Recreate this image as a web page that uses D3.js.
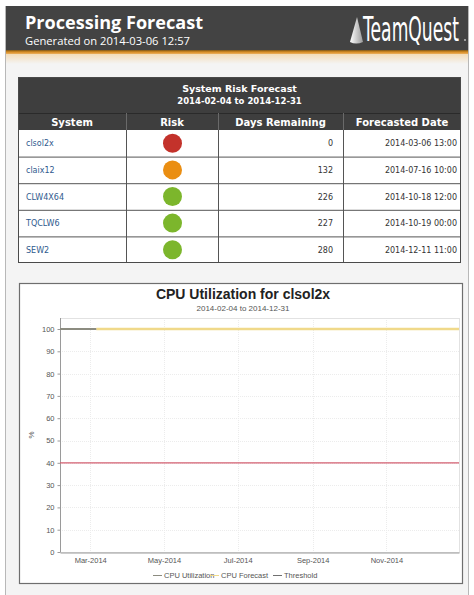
<!DOCTYPE html>
<html>
<head>
<meta charset="utf-8">
<script src="https://cdn.jsdelivr.net/npm/d3@7/dist/d3.min.js"></script>
<style>
  html, body { margin: 0; padding: 0; background: #ffffff; }
  svg { display: block; }
</style>
</head>
<body>
<svg id="page" width="474" height="595"></svg>
<script>
// ---------- DATA ----------
const reportTitle = "Processing Forecast";
const generatedOn = "Generated on 2014-03-06 12:57";
const tableTitle = "System Risk Forecast";
const periodText = "2014-02-04 to 2014-12-31";
const columns = ["System", "Risk", "Days Remaining", "Forecasted Date"];
const systems = ["clsol2x", "claix12", "CLW4X64", "TQCLW6", "SEW2"];
const riskLevels = ["high", "medium", "low", "low", "low"];
const daysRemaining = [0, 132, 226, 227, 280];
const forecastDates = ["2014-03-06 13:00", "2014-07-16 10:00", "2014-10-18 12:00", "2014-10-19 00:00", "2014-12-11 11:00"];

const chartTitle = "CPU Utilization for clsol2x";
const chartPeriod = ["2014-02-04", "2014-12-31"];
const utilDates = ["2014-02-04", "2014-03-06"];
const utilValues = [100, 100];
const forecastLineDates = ["2014-03-06", "2014-12-31"];
const forecastValues = [100, 100];
const thresholdValue = 40;
const yTicks = [0, 10, 20, 30, 40, 50, 60, 70, 80, 90, 100];
const xTickDates = ["2014-03-01", "2014-05-01", "2014-07-01", "2014-09-01", "2014-11-01"];
const legendLabels = ["CPU Utilization", "CPU Forecast", "Threshold"];

// ---------- STYLE ----------
const riskColor = { high: "#c3322b", medium: "#ea8e12", low: "#7cb62c" };
const seriesColor = ["#8c8c80", "#f0d98a", "#d35f70"];

const svg = d3.select("#page");
const defs = svg.append("defs");

// page frame
svg.append("rect").attr("x", 5.5).attr("y", 6.5).attr("width", 463).attr("height", 590)
  .attr("fill", "#f4f4f4").attr("stroke", "#b8b8b8");

// header
svg.append("rect").attr("x", 6).attr("y", 6).attr("width", 462).attr("height", 44).attr("fill", "#434343");
const g1 = defs.append("linearGradient").attr("id", "stripe").attr("x1", 0).attr("y1", 0).attr("x2", 0).attr("y2", 1);
g1.append("stop").attr("offset", "0%").attr("stop-color", "#7a5418");
g1.append("stop").attr("offset", "50%").attr("stop-color", "#d98d22");
g1.append("stop").attr("offset", "100%").attr("stop-color", "#eab060");
svg.append("rect").attr("x", 6).attr("y", 50).attr("width", 462).attr("height", 4).attr("fill", "url(#stripe)");
const g2 = defs.append("linearGradient").attr("id", "fade").attr("x1", 0).attr("y1", 0).attr("x2", 0).attr("y2", 1);
g2.append("stop").attr("offset", "0%").attr("stop-color", "#f3dcb8");
g2.append("stop").attr("offset", "100%").attr("stop-color", "#f4f4f4");
svg.append("rect").attr("x", 6).attr("y", 54).attr("width", 462).attr("height", 10).attr("fill", "url(#fade)");

svg.append("text").attr("x", 25).attr("y", 29)
  .attr("font-family", "'Open Sans', 'DejaVu Sans', sans-serif").attr("font-weight", "bold")
  .attr("font-size", 18).attr("fill", "#ffffff")
  .attr("textLength", 178).attr("lengthAdjust", "spacingAndGlyphs")
  .text(reportTitle);
svg.append("text").attr("x", 25).attr("y", 45)
  .attr("font-family", "'Open Sans', 'DejaVu Sans', sans-serif")
  .attr("font-size", 11).attr("fill", "#ffffff")
  .attr("textLength", 165).attr("lengthAdjust", "spacingAndGlyphs")
  .text(generatedOn);

// logo
const gCone = defs.append("linearGradient").attr("id", "cone").attr("x1", 0).attr("y1", 0).attr("x2", 1).attr("y2", 0);
gCone.append("stop").attr("offset", "0%").attr("stop-color", "#ffffff");
gCone.append("stop").attr("offset", "100%").attr("stop-color", "#9a9a9a");
svg.append("path").attr("d", "M357,17 L350,42 Q356,45 363,42 Z").attr("fill", "url(#cone)");
svg.append("text").attr("transform", "translate(363,41) scale(0.52,1)")
  .attr("font-family", "'DejaVu Sans', sans-serif")
  .attr("font-size", 33).attr("fill", "#ffffff")
  .text("TeamQuest");
svg.append("circle").attr("cx", 465).attr("cy", 40).attr("r", 1).attr("fill", "#bbbbbb");

// ---------- TABLE ----------
const colEdges = [18, 126, 218, 343, 461];
const tTop = 77, titleH = 36, headH = 17;
const rowsTop = tTop + titleH + headH;
const rowY = d3.scaleBand().domain(d3.range(systems.length)).range([rowsTop, 263]);
const tableFont = "'DejaVu Sans', Verdana, sans-serif";

svg.append("rect").attr("x", colEdges[0]).attr("y", tTop).attr("width", colEdges[4] - colEdges[0])
  .attr("height", titleH + headH).attr("fill", "#3e3e3e");
svg.append("rect").attr("x", colEdges[0]).attr("y", rowsTop).attr("width", colEdges[4] - colEdges[0])
  .attr("height", 263 - rowsTop).attr("fill", "#ffffff");

svg.append("text").attr("x", (colEdges[0] + colEdges[4]) / 2).attr("y", 92)
  .attr("text-anchor", "middle").attr("font-family", tableFont).attr("font-weight", "bold")
  .attr("font-size", 9.5).attr("fill", "#ffffff").text(tableTitle);
svg.append("text").attr("x", (colEdges[0] + colEdges[4]) / 2).attr("y", 104)
  .attr("text-anchor", "middle").attr("font-family", tableFont).attr("font-weight", "bold")
  .attr("font-size", 8.5).attr("fill", "#ffffff").text(periodText);

// header row
svg.append("line").attr("x1", colEdges[0]).attr("x2", colEdges[4]).attr("y1", tTop + titleH + 0.5).attr("y2", tTop + titleH + 0.5)
  .attr("stroke", "#2a2a2a");
columns.forEach((c, i) => {
  svg.append("text").attr("x", (colEdges[i] + colEdges[i + 1]) / 2).attr("y", tTop + titleH + 12.5)
    .attr("text-anchor", "middle").attr("font-family", tableFont).attr("font-weight", "bold")
    .attr("font-size", 10).attr("fill", "#ffffff").text(c);
});

// rows
systems.forEach((s, i) => {
  const y0 = rowY(i), h = rowY.bandwidth(), cy = y0 + h / 2;
  svg.append("text").attr("x", colEdges[0] + 8).attr("y", cy + 3)
    .attr("font-family", tableFont).attr("font-size", 8).attr("fill", "#2f5a8e").text(s);
  svg.append("circle").attr("cx", (colEdges[1] + colEdges[2]) / 2 + 0.5).attr("cy", cy).attr("r", 9.5)
    .attr("fill", riskColor[riskLevels[i]]);
  svg.append("text").attr("x", colEdges[3] - 10).attr("y", cy + 3).attr("text-anchor", "end")
    .attr("font-family", tableFont).attr("font-size", 8).attr("fill", "#333333").text(daysRemaining[i]);
  svg.append("text").attr("x", colEdges[4] - 4).attr("y", cy + 3).attr("text-anchor", "end")
    .attr("font-family", tableFont).attr("font-size", 8).attr("fill", "#333333").text(forecastDates[i]);
  if (i > 0) {
    svg.append("line").attr("x1", colEdges[0]).attr("x2", colEdges[4]).attr("y1", y0 + 0.5).attr("y2", y0 + 0.5)
      .attr("stroke", "#555555");
  }
});
// vertical separators
colEdges.slice(1, 4).forEach(x => {
  svg.append("line").attr("x1", x + 0.5).attr("x2", x + 0.5).attr("y1", tTop + titleH).attr("y2", rowsTop)
    .attr("stroke", "#6a6a6a");
  svg.append("line").attr("x1", x + 0.5).attr("x2", x + 0.5).attr("y1", rowsTop).attr("y2", 263)
    .attr("stroke", "#555555");
});
svg.append("rect").attr("x", colEdges[0] + 0.5).attr("y", tTop + 0.5).attr("width", colEdges[4] - colEdges[0] - 1)
  .attr("height", 263 - tTop - 1).attr("fill", "none").attr("stroke", "#4a4a4a");

// ---------- CHART ----------
const box = { x: 19, y: 283, w: 443, h: 300 };
svg.append("rect").attr("x", box.x + 0.5).attr("y", box.y + 0.5).attr("width", box.w).attr("height", box.h)
  .attr("fill", "#ffffff").attr("stroke", "#6e6e6e").attr("stroke-width", 1.2);

const chartFont = "'Liberation Sans', Arial, sans-serif";
svg.append("text").attr("x", 243).attr("y", 299).attr("text-anchor", "middle")
  .attr("font-family", chartFont).attr("font-weight", "bold").attr("font-size", 14).attr("fill", "#222")
  .text(chartTitle);
svg.append("text").attr("x", 243).attr("y", 311).attr("text-anchor", "middle")
  .attr("font-family", chartFont).attr("font-size", 8).attr("fill", "#555")
  .text(chartPeriod[0] + " to " + chartPeriod[1]);

const plot = { left: 60, right: 459, top: 318, bottom: 552 };
const parse = d3.timeParse("%Y-%m-%d");
const x = d3.scaleTime().domain(chartPeriod.map(parse)).range([plot.left, plot.right]);
const y = d3.scaleLinear().domain([0, 100]).range([plot.bottom, plot.top + 11]);

// grid
const grid = svg.append("g");
grid.selectAll(".hg").data(yTicks.slice(1)).join("line")
  .attr("x1", plot.left).attr("x2", plot.right)
  .attr("y1", d => Math.round(y(d)) + 0.5).attr("y2", d => Math.round(y(d)) + 0.5)
  .attr("stroke", "#ececec").attr("stroke-dasharray", "1,1");
grid.selectAll(".vg").data(xTickDates.map(parse)).join("line")
  .attr("x1", d => Math.round(x(d)) + 0.5).attr("x2", d => Math.round(x(d)) + 0.5)
  .attr("y1", plot.top).attr("y2", plot.bottom)
  .attr("stroke", "#ececec").attr("stroke-dasharray", "1,1");

// plot frame
svg.append("rect").attr("x", plot.left + 0.5).attr("y", plot.top + 0.5)
  .attr("width", plot.right - plot.left).attr("height", plot.bottom - plot.top)
  .attr("fill", "none").attr("stroke", "#e2e2e2");

// axes
const yAxis = svg.append("g").attr("transform", `translate(${plot.left + 0.5},0)`)
  .call(d3.axisLeft(y).tickValues(yTicks).tickSize(3).tickPadding(3));
const xAxis = svg.append("g").attr("transform", `translate(0,${plot.bottom + 0.5})`)
  .call(d3.axisBottom(x).tickValues(xTickDates.map(parse)).tickSize(0).tickPadding(5)
    .tickFormat(d3.timeFormat("%b-%Y")));
[yAxis, xAxis].forEach(a => {
  a.select(".domain").attr("stroke", "#9a9a9a");
  a.selectAll(".tick line").attr("stroke", "#9a9a9a");
  a.selectAll(".tick text").attr("font-family", chartFont).attr("font-size", 7.5).attr("fill", "#555");
});
yAxis.select(".domain").attr("d", `M0,${plot.top}V${plot.bottom}`);

svg.append("text").attr("transform", `translate(34,${(plot.top + plot.bottom) / 2}) rotate(-90)`)
  .attr("text-anchor", "middle").attr("font-family", chartFont).attr("font-size", 8).attr("fill", "#555")
  .text("%");

// series
const line = d3.line().x(d => x(d[0])).y(d => y(d[1]));
svg.append("path").datum(forecastLineDates.map((d, i) => [parse(d), forecastValues[i]]))
  .attr("d", line).attr("fill", "none").attr("stroke", seriesColor[1]).attr("stroke-width", 2.5);
svg.append("path").datum(utilDates.map((d, i) => [parse(d), utilValues[i]]))
  .attr("d", line).attr("fill", "none").attr("stroke", seriesColor[0]).attr("stroke-width", 2);
svg.append("path").datum(chartPeriod.map(d => [parse(d), thresholdValue]))
  .attr("d", line).attr("fill", "none").attr("stroke", seriesColor[2]).attr("stroke-width", 1.2);

// legend
const legendX = [153, 210, 273];
legendLabels.forEach((l, i) => {
  svg.append("line").attr("x1", legendX[i]).attr("x2", legendX[i] + 9).attr("y1", 575.5).attr("y2", 575.5)
    .attr("stroke", i === 2 ? "#707070" : seriesColor[i]).attr("stroke-width", 1);
  svg.append("text").attr("x", legendX[i] + 11).attr("y", 578)
    .attr("font-family", chartFont).attr("font-size", 7.5).attr("fill", "#555").text(l);
});
</script>
</body>
</html>
